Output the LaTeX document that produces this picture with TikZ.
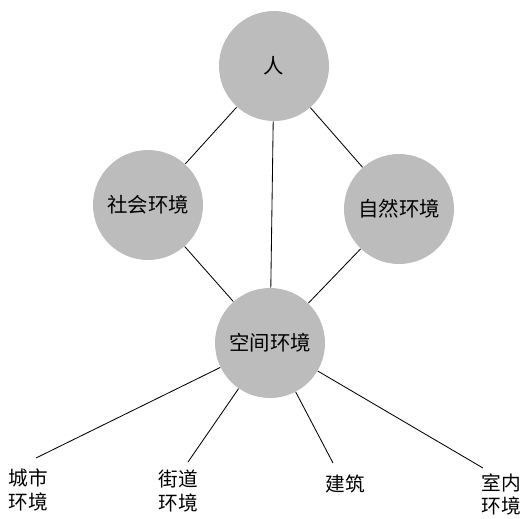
\documentclass[tikz,border=0pt]{standalone}
\usepackage{fontspec}
\newfontfamily\cjk{Noto Sans CJK SC}
\usepackage{xcolor}
\usepackage{tikz}
\usetikzlibrary{positioning, calc}
\definecolor{discgray}{RGB}{188,188,188}
\tikzset{
    place/.style={
        circle,
        fill=discgray,
        inner sep=0pt,
        minimum size=2.75cm,
        font=\cjk\fontsize{14.5}{17}\selectfont,
    },
    leaf/.style={
        align=center,
        inner sep=0pt,
        font=\cjk\fontsize{14}{16.5}\selectfont,
    },
}

\begin{document}
\begin{tikzpicture}[on grid, line width=0.6pt]
      \useasboundingbox (0,0) rectangle (13.275,-12.95);
      \node [place] (ren) at (6.85,-1.65) {人};
      \node [place] (shehui) [below left=3.475cm and 3.15cm of ren] {社会环境};
      \node [place] (ziran) [below right=3.575cm and 3.125cm of ren] {自然环境};
      \node [place] (kongjian) [below left=6.925cm and 0.1cm of ren] {空间环境};

      \node [leaf] (chengshi) at (0.7,-12.25) {城市\\环境};
      \node [leaf] (jiedao) at (4.45,-12.275) {街道\\环境};
      \node [leaf] (jianzhu) at (8.625,-12.1) {建筑};
      \node [leaf] (shinei) at (12.525,-12.36) {室内\\环境};
      \coordinate (end-chengshi) at (0.9,-11.45);
      \coordinate (end-jiedao) at (4.7,-11.55);
      \coordinate (end-jianzhu) at (8.325,-11.575);
      \coordinate (end-shinei) at (12.075,-11.7);

      \draw (ren) -- (shehui);
      \draw (ren) -- (ziran);
      \draw (ren) -- (kongjian);
      \draw (shehui) -- (kongjian);
      \draw (ziran) -- (kongjian);
      \draw (kongjian) -- (end-chengshi);
      \draw (kongjian) -- (end-jiedao);
      \draw (kongjian) -- (end-jianzhu);
      \draw (kongjian) -- (end-shinei);
    \end{tikzpicture}
\end{document}
